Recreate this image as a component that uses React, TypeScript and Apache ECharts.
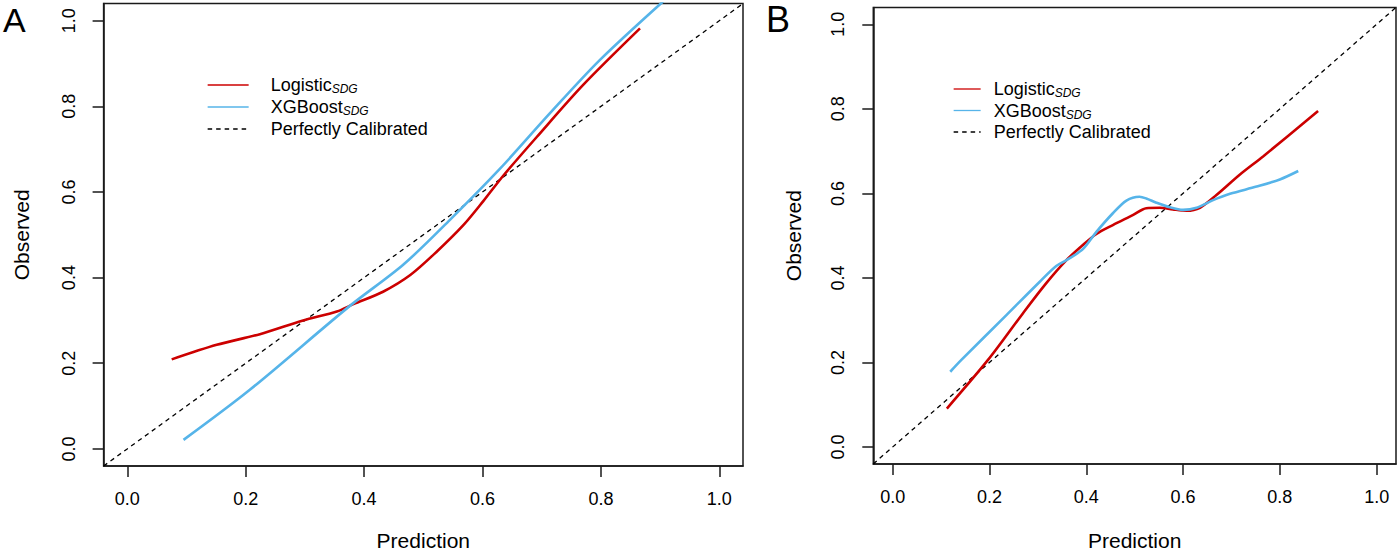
import React, { useEffect, useRef } from "react";
import * as echarts from "echarts";

// ---- data ----
const tickValues = [0, 0.2, 0.4, 0.6, 0.8, 1.0];
const axisMin = -0.04;
const axisMax = 1.04;
const seriesNames = ["Logistic_SDG", "XGBoost_SDG", "Perfectly Calibrated"];

const diagonal = [
  [-0.04, -0.04],
  [1.04, 1.04],
];

const logisticA = [
  [0.075, 0.209], [0.151, 0.243], [0.224, 0.268], [0.297, 0.3], [0.354, 0.321],
  [0.382, 0.338], [0.432, 0.367], [0.478, 0.406], [0.523, 0.461], [0.568, 0.523],
  [0.601, 0.578], [0.635, 0.638], [0.692, 0.729], [0.77, 0.85], [0.866, 0.982],
];
const xgboostA = [
  [0.095, 0.021], [0.207, 0.138], [0.376, 0.334], [0.466, 0.43], [0.545, 0.535],
  [0.63, 0.655], [0.714, 0.784], [0.798, 0.908], [0.905, 1.045],
];

const logisticB = [
  [0.112, 0.091], [0.197, 0.206], [0.269, 0.316], [0.317, 0.387], [0.359, 0.442],
  [0.393, 0.478], [0.421, 0.504], [0.455, 0.525], [0.497, 0.549], [0.524, 0.565],
  [0.552, 0.566], [0.579, 0.562], [0.607, 0.559], [0.635, 0.566], [0.669, 0.596],
  [0.717, 0.644], [0.766, 0.688], [0.879, 0.795],
];
const xgboostB = [
  [0.119, 0.178], [0.142, 0.206], [0.235, 0.312], [0.304, 0.391], [0.338, 0.428],
  [0.359, 0.442], [0.393, 0.468], [0.421, 0.509], [0.455, 0.553], [0.483, 0.583],
  [0.51, 0.592], [0.524, 0.588], [0.545, 0.578], [0.573, 0.567], [0.6, 0.561],
  [0.628, 0.566], [0.662, 0.584], [0.697, 0.599], [0.752, 0.616], [0.8, 0.633],
  [0.838, 0.653],
];

// ---- styles ----
const FONT = "'Liberation Sans', Arial, Helvetica, sans-serif";
const RED = "#CC0000";
const BLUE = "#56B4E9";
const INK = "#1a1a1a";

function makeAxes(gridIndex: number, xNameGap: number, yNameGap: number) {
  const common = {
    type: "value" as const,
    gridIndex,
    min: axisMin,
    max: axisMax,
    splitLine: { show: false },
    axisLine: { show: true, onZero: false, lineStyle: { color: INK, width: 1.5 } },
    axisTick: {
      show: true,
      inside: false,
      length: 11,
      lineStyle: { color: INK, width: 1.5 },
      customValues: tickValues,
    },
  };
  const x = {
    ...common,
    name: "Prediction",
    nameLocation: "middle" as const,
    nameGap: xNameGap,
    nameTextStyle: { fontSize: 21, lineHeight: 21, color: "#000", fontFamily: FONT },
    axisLabel: {
      fontSize: 18,
      color: "#000",
      margin: 24,
      fontFamily: FONT,
      customValues: tickValues,
      formatter: (v: number) => v.toFixed(1),
    },
  };
  const y = {
    ...common,
    name: "Observed",
    nameLocation: "middle" as const,
    nameGap: yNameGap,
    nameTextStyle: { fontSize: 21, lineHeight: 21, color: "#000", fontFamily: FONT },
    axisLabel: {
      fontSize: 18,
      color: "#000",
      margin: 26,
      rotate: 90,
      fontFamily: FONT,
      customValues: tickValues,
      formatter: (v: number) => v.toFixed(1),
    },
  };
  return { x, y };
}

function legendFor(left: number, top: number, iconW: number, gap: number, itemGap: number) {
  return {
    orient: "vertical" as const,
    left,
    top,
    padding: 0,
    itemWidth: iconW,
    itemHeight: 20,
    itemGap,
    data: seriesNames,
    selectedMode: false,
    lineStyle: { width: 1.3 },
    itemStyle: { opacity: 0, color: "transparent", borderWidth: 0 },
    formatter: (name: string) => {
      if (name === "Logistic_SDG") return "{gap|}{main|Logistic}{sub|SDG}";
      if (name === "XGBoost_SDG") return "{gap|}{main|XGBoost}{sub|SDG}";
      return "{gap|}{main|" + name + "}";
    },
    textStyle: {
      fontSize: 18,
      fontFamily: FONT,
      color: "#000",
      rich: {
        gap: { width: gap },
        main: { fontSize: 18, lineHeight: 20, fontFamily: FONT, color: "#000" },
        sub: {
          fontSize: 12,
          fontStyle: "italic",
          lineHeight: 6,
          verticalAlign: "bottom",
          fontFamily: FONT,
          color: "#000",
        },
      },
    },
  };
}

function lineSeries(name: string, data: number[][], color: string, idx: number, dashed = false) {
  return {
    type: "line" as const,
    name,
    data,
    xAxisIndex: idx,
    yAxisIndex: idx,
    symbol: "none",
    showSymbol: false,
    smooth: dashed ? false : 0.3,
    clip: true,
    lineStyle: dashed
      ? { color: "#000", width: 1.3, type: [4.5, 4] as any }
      : { color, width: 2.6 },
    itemStyle: { color: dashed ? "#000" : color },
    z: dashed ? 1 : 2,
  };
}

export default function App() {
  const ref = useRef<HTMLDivElement>(null);
  useEffect(() => {
    if (!ref.current) return;
    const chart = echarts.init(ref.current, undefined, { renderer: "svg" });
    const a = makeAxes(0, 64, 72);
    const b = makeAxes(1, 66, 69);
    chart.setOption({
      animation: false,
      backgroundColor: "#fff",
      textStyle: { fontFamily: FONT },
      grid: [
        { left: 103.6, top: 3.6, width: 639.4, height: 462.4, show: true, borderColor: INK, borderWidth: 1.5, backgroundColor: "transparent", containLabel: false, outerBoundsMode: "none" },
        { left: 873.3, top: 7.4, width: 522.7, height: 456.5, show: true, borderColor: INK, borderWidth: 1.5, backgroundColor: "transparent", containLabel: false, outerBoundsMode: "none" },
      ],
      xAxis: [a.x, b.x],
      yAxis: [a.y, b.y],
      legend: [legendFor(207, 76, 41, 17, 3), legendFor(953, 80, 27, 8, 2.5)],
      series: [
        lineSeries("Perfectly Calibrated", diagonal, "#000", 0, true),
        lineSeries("Logistic_SDG", logisticA, RED, 0),
        lineSeries("XGBoost_SDG", xgboostA, BLUE, 0),
        lineSeries("Perfectly Calibrated", diagonal, "#000", 1, true),
        lineSeries("Logistic_SDG", logisticB, RED, 1),
        lineSeries("XGBoost_SDG", xgboostB, BLUE, 1),
      ],
      graphic: [
        { type: "text", left: 3, top: 3, style: { text: "A", fontSize: 34, lineHeight: 26, fontFamily: FONT, fill: "#000" } },
        { type: "text", left: 766, top: 1, style: { text: "B", fontSize: 36, lineHeight: 24, fontFamily: FONT, fill: "#000" } },
      ],
    });
    return () => chart.dispose();
  }, []);
  return (
    <div
      ref={ref}
      style={{ position: "fixed", left: 0, top: 0, width: 1400, height: 552, background: "#fff" }}
    />
  );
}
